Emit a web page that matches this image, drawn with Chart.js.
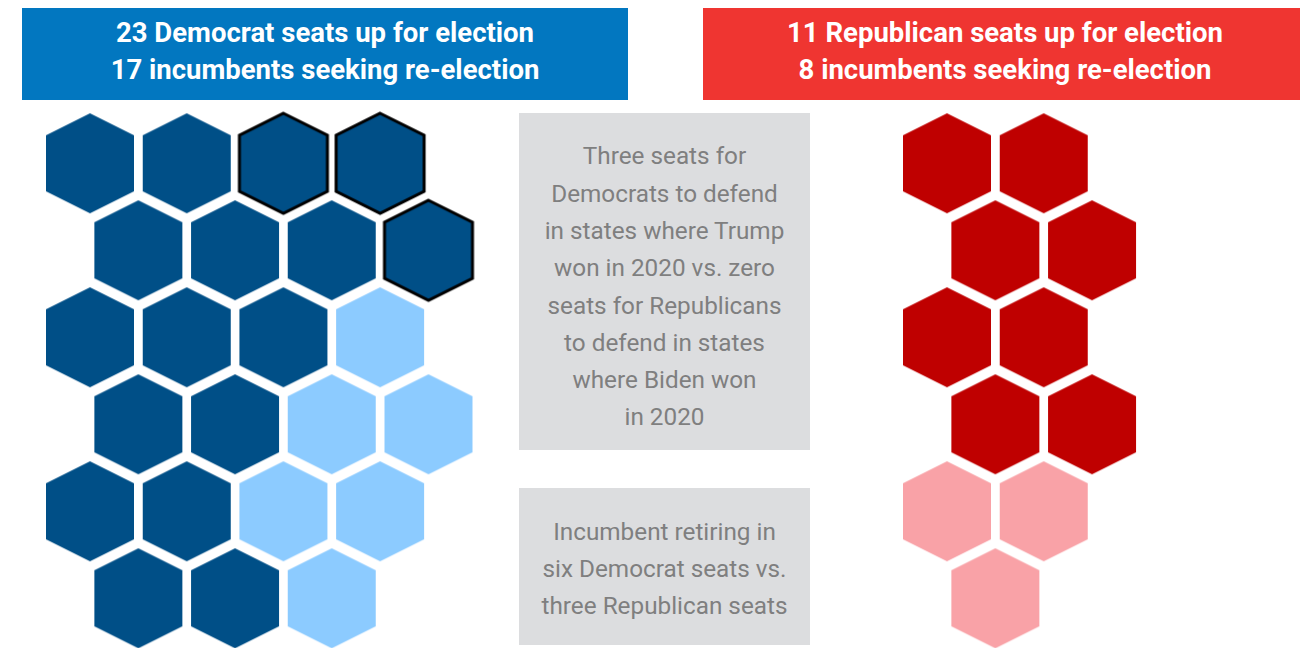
<!DOCTYPE html>
<html>
<head>
<meta charset="utf-8">
<script src="https://cdn.jsdelivr.net/npm/chart.js@4"></script>
<style>
  html, body { margin: 0; padding: 0; background: #fff; }
  #wrap { position: relative; width: 1300px; height: 648px; overflow: hidden; font-family: Roboto, sans-serif; }
  #hexChart { position: absolute; left: 0; top: 0; }
  .head { position: absolute; top: 8px; height: 86px; padding-bottom: 6px; color: #fff; font-weight: 700; font-size: 27.5px;
          line-height: 37.5px; text-align: center; display: flex; flex-direction: column; justify-content: center; }
  .note { position: absolute; left: 519px; width: 291px; background: #dcdddf; color: #7f7f7f;
          font-size: 24.3px; line-height: 37.3px; text-align: center; display: flex; flex-direction: column; justify-content: center; }
</style>
</head>
<body>
<div id="wrap">
  <canvas id="hexChart" width="1300" height="648"></canvas>
  <div class="head" style="left:22px;width:606px;background:#0277c0">
    <div>23 Democrat seats up for election</div>
    <div>17 incumbents seeking re-election</div>
  </div>
  <div class="head" style="left:703px;width:604px;background:#ef3531">
    <div>11 Republican seats up for election</div>
    <div>8 incumbents seeking re-election</div>
  </div>
  <div class="note" style="top:113px;height:327px;padding-top:10px">
    <div>Three seats for<br>Democrats to defend<br>in states where Trump<br>won in 2020 vs. zero<br>seats for Republicans<br>to defend in states<br>where Biden won<br>in 2020</div>
  </div>
  <div class="note" style="top:488px;height:153px;padding-top:4px">
    <div>Incumbent retiring in<br>six Democrat seats vs.<br>three Republican seats</div>
  </div>
</div>
<script>
// seat grid cells: row index and slot within the row (odd rows sit half a slot to the right)
const demIncumbentRow  = [0, 0, 1, 1, 1, 2, 2, 2, 3, 3, 4, 4, 5, 5];
const demIncumbentSlot = [0, 1, 0, 1, 2, 0, 1, 2, 0, 1, 0, 1, 0, 1];
const demTrumpRow  = [0, 0, 1];
const demTrumpSlot = [2, 3, 3];
const demRetiringRow  = [2, 3, 3, 4, 4, 5];
const demRetiringSlot = [3, 2, 3, 2, 3, 2];
const repIncumbentRow  = [0, 0, 1, 1, 2, 2, 3, 3];
const repIncumbentSlot = [0, 1, 0, 1, 0, 1, 0, 1];
const repRetiringRow  = [4, 4, 5];
const repRetiringSlot = [0, 1, 0];

function cells(rows, slots) {
    return rows.map((r, i) => ({ x: slots[i] + (r % 2) * 0.5, y: r }));
}

function hexImage(fill, stroke) {
    const c = document.createElement('canvas');
    c.width = 96;
    c.height = 108;
    const g = c.getContext('2d');
    g.translate(48, 54);
    g.beginPath();
    g.moveTo(0, -50);
    g.lineTo(44, -28);
    g.lineTo(44, 28);
    g.lineTo(0, 50);
    g.lineTo(-44, 28);
    g.lineTo(-44, -28);
    g.closePath();
    g.fillStyle = fill;
    g.fill();
    if (stroke) {
        g.lineWidth = 3;
        g.strokeStyle = stroke;
        g.lineJoin = 'miter';
        g.stroke();
    }
    return c;
}

const colStep = 96.7, rowStep = 87;
const demX0 = 90, repX0 = 947, rowY0 = 163.3;

const ctx = document.getElementById('hexChart').getContext('2d');

new Chart(ctx, {
    type: 'scatter',
    data: {
        datasets: [{
            label: 'Democrat incumbents',
            data: cells(demIncumbentRow, demIncumbentSlot),
            pointStyle: hexImage('#004f87'),
            xAxisID: 'xd'
        }, {
            label: 'Democrat seats in Trump states',
            data: cells(demTrumpRow, demTrumpSlot),
            pointStyle: hexImage('#004f87', '#000000'),
            xAxisID: 'xd'
        }, {
            label: 'Democrat retiring',
            data: cells(demRetiringRow, demRetiringSlot),
            pointStyle: hexImage('#8ccbff'),
            xAxisID: 'xd'
        }, {
            label: 'Republican incumbents',
            data: cells(repIncumbentRow, repIncumbentSlot),
            pointStyle: hexImage('#bf0000'),
            xAxisID: 'xr'
        }, {
            label: 'Republican retiring',
            data: cells(repRetiringRow, repRetiringSlot),
            pointStyle: hexImage('#f9a2a7'),
            xAxisID: 'xr'
        }]
    },
    options: {
        responsive: false,
        animation: false,
        events: [],
        layout: { padding: 0, autoPadding: false },
        datasets: { scatter: { clip: false } },
        scales: {
            xd: {
                type: 'linear', axis: 'x', display: false,
                min: -demX0 / colStep, max: (1300 - demX0) / colStep
            },
            xr: {
                type: 'linear', axis: 'x', display: false,
                min: -repX0 / colStep, max: (1300 - repX0) / colStep
            },
            y: {
                type: 'linear', display: false, reverse: true,
                min: -rowY0 / rowStep, max: (648 - rowY0) / rowStep
            }
        },
        plugins: {
            legend: { display: false },
            tooltip: { enabled: false }
        }
    }
});
</script>
</body>
</html>
